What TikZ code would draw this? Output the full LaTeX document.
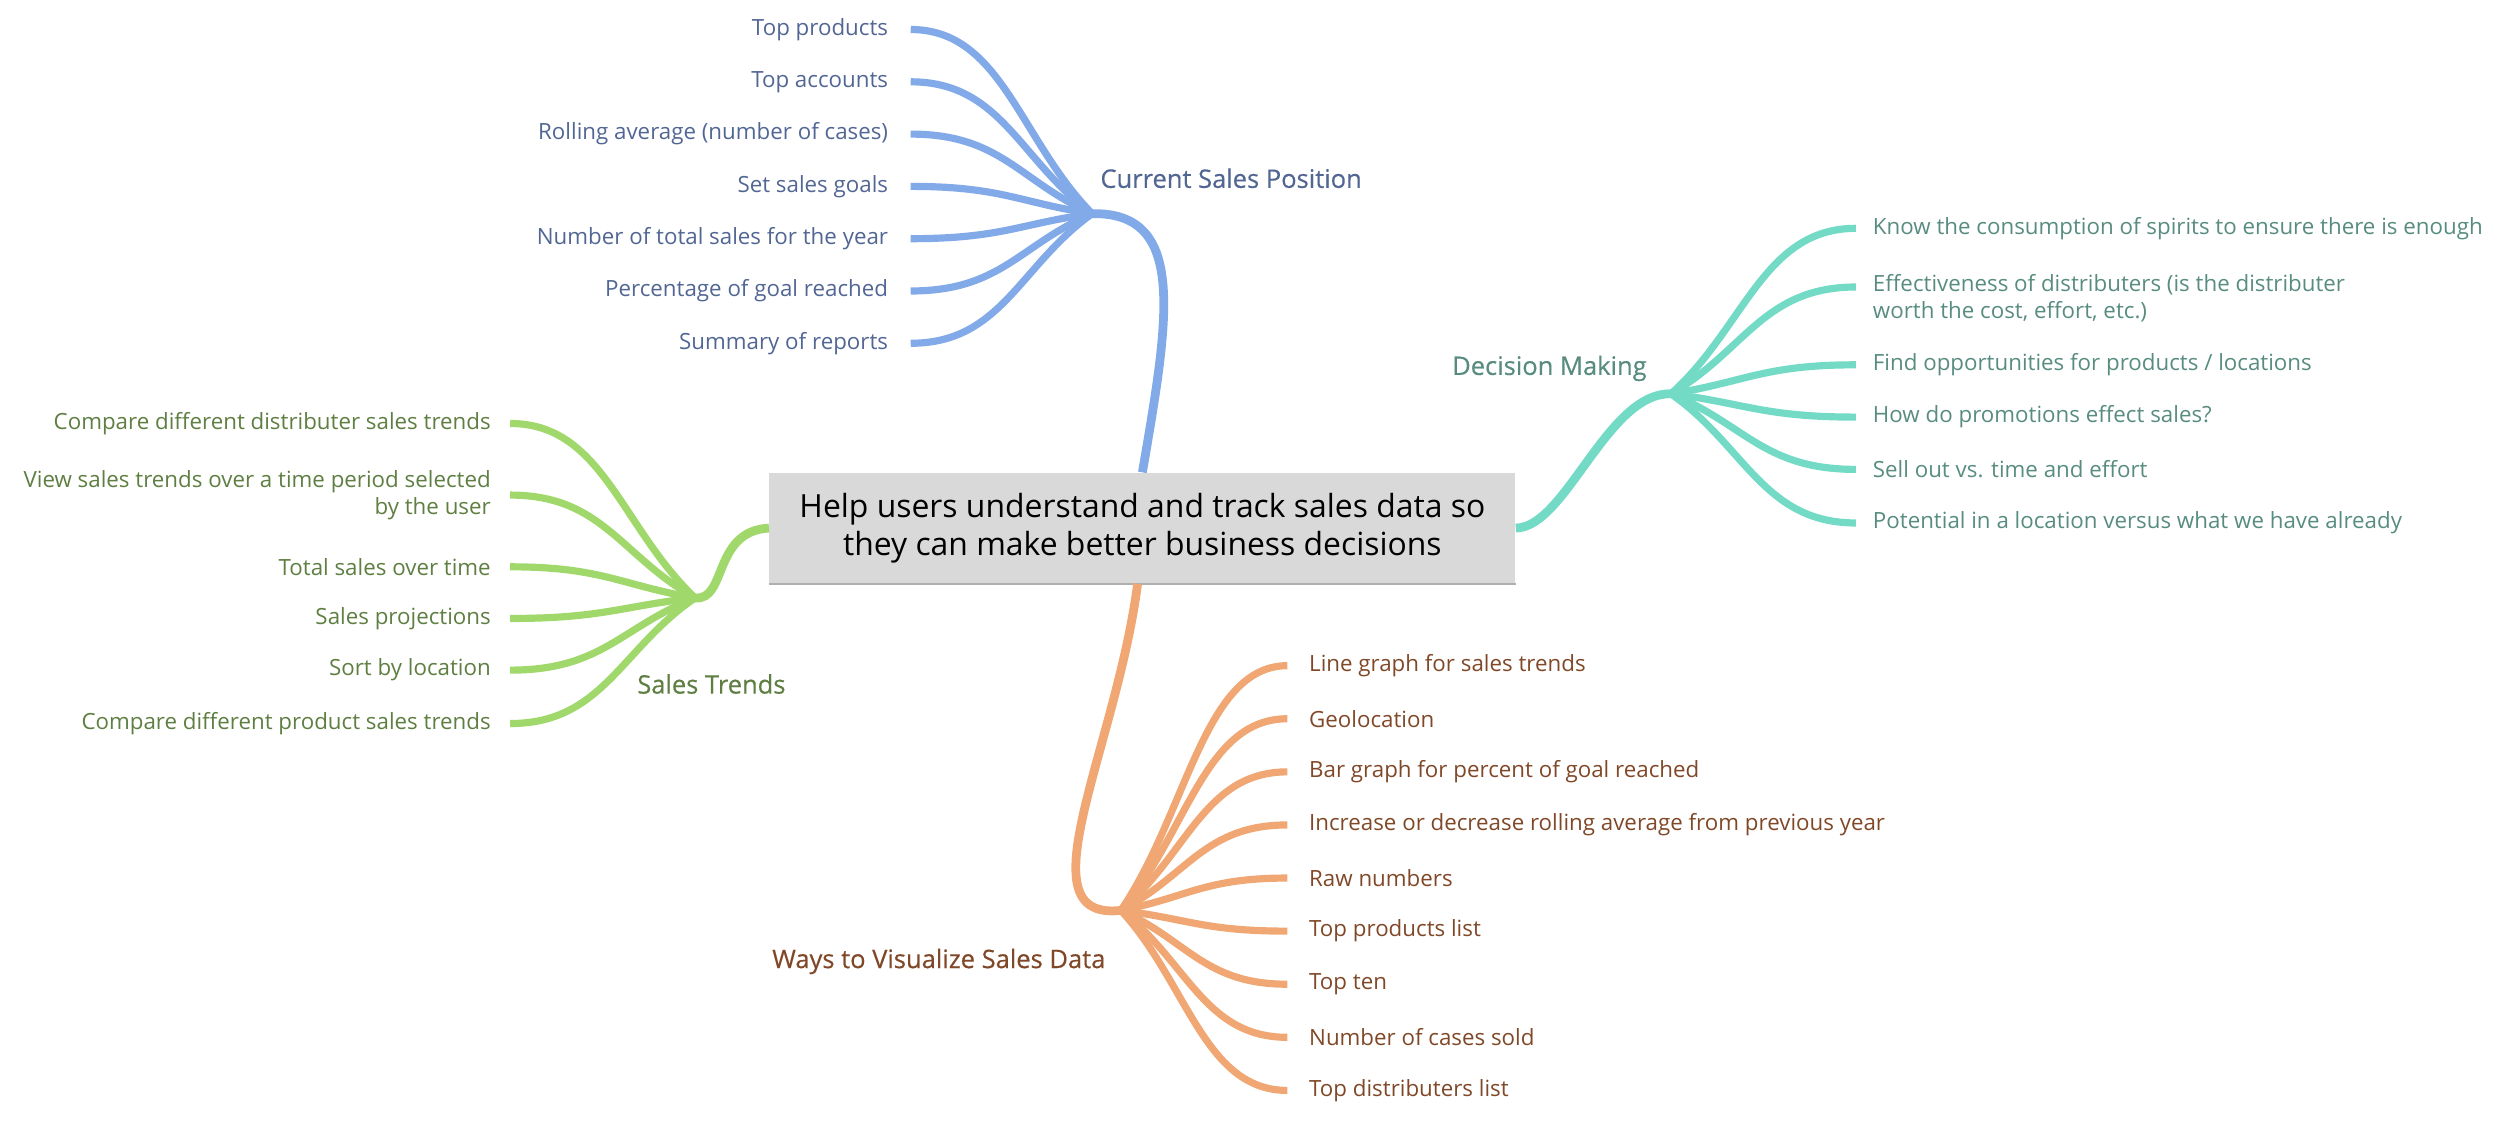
\documentclass[tikz,border=0pt]{standalone}
\usepackage{fontspec}
\setmainfont{Open Sans}
\usepackage{tikz}
\usetikzlibrary{calc}

\definecolor{rootgray}{RGB}{217,217,217}
\definecolor{rootline}{RGB}{175,175,175}
\definecolor{csline}{RGB}{130,170,232}
\definecolor{cstext}{RGB}{82,102,148}
\definecolor{stline}{RGB}{160,216,108}
\definecolor{sttext}{RGB}{94,126,66}
\definecolor{dmline}{RGB}{115,218,198}
\definecolor{dmtext}{RGB}{88,140,128}
\definecolor{vdline}{RGB}{240,167,115}
\definecolor{vdtext}{RGB}{128,72,40}

\tikzset{
    leafline/.style={to path={.. controls ($(\tikztostart)!0.4!(\tikztotarget)$) and ($(\tikztotarget)!0.5!(\tikztostart |- \tikztotarget)$) .. (\tikztotarget)}},
    branch/.style={line width=5.5pt},
    twig/.style={line width=4.5pt},
    leaftext/.style={inner ysep=0pt, font=\fontsize{14}{17}\selectfont},
    headtext/.style={inner sep=0pt, font=\fontsize{16}{19}\selectfont\addfontfeature{FakeBold=0.4}},
    rootbox/.style={fill=rootgray, minimum width=468pt, minimum height=69.5pt, inner sep=0pt, align=center, font=\fontsize{20}{23.5}\selectfont},
    rootedge/.style={draw=rootline, line width=1pt},
    csleaf/.style={leaftext, anchor=east, inner xsep=14pt, text=cstext, align=right},
    stleaf/.style={leaftext, anchor=east, inner xsep=12pt, text=sttext, align=right},
    dmleaf/.style={leaftext, anchor=west, inner xsep=10.5pt, text=dmtext, align=left},
    vdleaf/.style={leaftext, anchor=west, inner xsep=13.5pt, text=vdtext, align=left},
}

\begin{document}
\begin{tikzpicture}[x=1pt,y=-1pt]
    \useasboundingbox (0,0) rectangle (1568,707.5);

    % central topic
    \node[rootbox] at (716.5,331.2) (root) {Help users understand and track sales data so\\they can make better business decisions};
    \draw[rootedge] (root.south west) -- (root.south east);

    \coordinate (cshub) at (685,134);
    \coordinate (sthub) at (436,375);
    \coordinate (dmhub) at (1048,247);
    \coordinate (vdhub) at (703,571);

    \draw[branch, csline] (root.north) .. controls (733,200) and (745,133) .. (cshub);
    \draw[branch, stline] (root.west) .. controls (447,333) and (456,377) .. (sthub);
    \draw[branch, dmline] (root.east) .. controls (982,331) and (1008,246) .. (dmhub);
    \draw[branch, vdline] ([xshift=-3pt]root.south) .. controls (700,470) and (640,578) .. (vdhub);

    % branch titles
    \node[headtext, anchor=west, text=cstext] at (690,111.8) (cs) {Current Sales Position};
    \node[headtext, anchor=west, text=sttext] at (399.5,429) (st) {Sales Trends};
    \node[headtext, anchor=east, text=dmtext] at (1033,231) (dm) {Decision Making};
    \node[headtext, anchor=east, text=vdtext] at (693.5,603) (vd) {Ways to Visualize Sales Data};

    % Current Sales Position
    \node[csleaf] at (571.2,18.5) (cs1) {Top products};
    \node[csleaf] at (571.2,51.3) (cs2) {Top accounts};
    \node[csleaf] at (571.2,84.1) (cs3) {Rolling average (number of cases)};
    \node[csleaf] at (571.2,116.9) (cs4) {Set sales goals};
    \node[csleaf] at (571.2,149.7) (cs5) {Number of total sales for the year};
    \node[csleaf] at (571.2,182.5) (cs6) {Percentage of goal reached};
    \node[csleaf] at (571.2,215.3) (cs7) {Summary of reports};
    \draw[twig, csline] (cshub) to[leafline] (cs1.east);
    \draw[twig, csline] (cshub) to[leafline] (cs2.east);
    \draw[twig, csline] (cshub) to[leafline] (cs3.east);
    \draw[twig, csline] (cshub) to[leafline] (cs4.east);
    \draw[twig, csline] (cshub) to[leafline] (cs5.east);
    \draw[twig, csline] (cshub) to[leafline] (cs6.east);
    \draw[twig, csline] (cshub) to[leafline] (cs7.east);

    % Sales Trends
    \node[stleaf] at (320,265.6) (st1) {Compare different distributer sales trends};
    \node[stleaf] at (320,310.5) (st2) {View sales trends over a time period selected\\by the user};
    \node[stleaf] at (320,355.5) (st3) {Total sales over time};
    \node[stleaf] at (320,387.9) (st4) {Sales projections};
    \node[stleaf] at (320,420.3) (st5) {Sort by location};
    \node[stleaf] at (320,453.8) (st6) {Compare different product sales trends};
    \draw[twig, stline] (sthub) to[leafline] (st1.east);
    \draw[twig, stline] (sthub) to[leafline] (st2.east);
    \draw[twig, stline] (sthub) to[leafline] (st3.east);
    \draw[twig, stline] (sthub) to[leafline] (st4.east);
    \draw[twig, stline] (sthub) to[leafline] (st5.east);
    \draw[twig, stline] (sthub) to[leafline] (st6.east);

    % Decision Making
    \coordinate (dm2end) at (1164,180);
    \node[dmleaf] at (1164,143.2) (dm1) {Know the consumption of spirits to ensure there is enough};
    \node[dmleaf] at (1164,187) (dm2) {Effectiveness of distributers (is the distributer\\worth the cost, effort, etc.)};
    \node[dmleaf] at (1164,228.8) (dm3) {Find opportunities for products / locations};
    \node[dmleaf] at (1164,261.6) (dm4) {How do promotions effect sales?};
    \node[dmleaf] at (1164,294.4) (dm5) {Sell out vs. time and effort};
    \node[dmleaf] at (1164,328) (dm6) {Potential in a location versus what we have already};
    \draw[twig, dmline] (dmhub) to[leafline] (dm1.west);
    \draw[twig, dmline] (dmhub) to[leafline] (dm2end);
    \draw[twig, dmline] (dmhub) to[leafline] (dm3.west);
    \draw[twig, dmline] (dmhub) to[leafline] (dm4.west);
    \draw[twig, dmline] (dmhub) to[leafline] (dm5.west);
    \draw[twig, dmline] (dmhub) to[leafline] (dm6.west);

    % Ways to Visualize Sales Data
    \node[vdleaf] at (807.4,417.5) (vd1) {Line graph for sales trends};
    \node[vdleaf] at (807.4,450.8) (vd2) {Geolocation};
    \node[vdleaf] at (807.4,484.1) (vd3) {Bar graph for percent of goal reached};
    \node[vdleaf] at (807.4,517.4) (vd4) {Increase or decrease rolling average from previous year};
    \node[vdleaf] at (807.4,550.7) (vd5) {Raw numbers};
    \node[vdleaf] at (807.4,584) (vd6) {Top products list};
    \node[vdleaf] at (807.4,617.3) (vd7) {Top ten};
    \node[vdleaf] at (807.4,650.6) (vd8) {Number of cases sold};
    \node[vdleaf] at (807.4,683.9) (vd9) {Top distributers list};
    \draw[twig, vdline] (vdhub) to[leafline] (vd1.west);
    \draw[twig, vdline] (vdhub) to[leafline] (vd2.west);
    \draw[twig, vdline] (vdhub) to[leafline] (vd3.west);
    \draw[twig, vdline] (vdhub) to[leafline] (vd4.west);
    \draw[twig, vdline] (vdhub) to[leafline] (vd5.west);
    \draw[twig, vdline] (vdhub) to[leafline] (vd6.west);
    \draw[twig, vdline] (vdhub) to[leafline] (vd7.west);
    \draw[twig, vdline] (vdhub) to[leafline] (vd8.west);
    \draw[twig, vdline] (vdhub) to[leafline] (vd9.west);
\end{tikzpicture}
\end{document}
